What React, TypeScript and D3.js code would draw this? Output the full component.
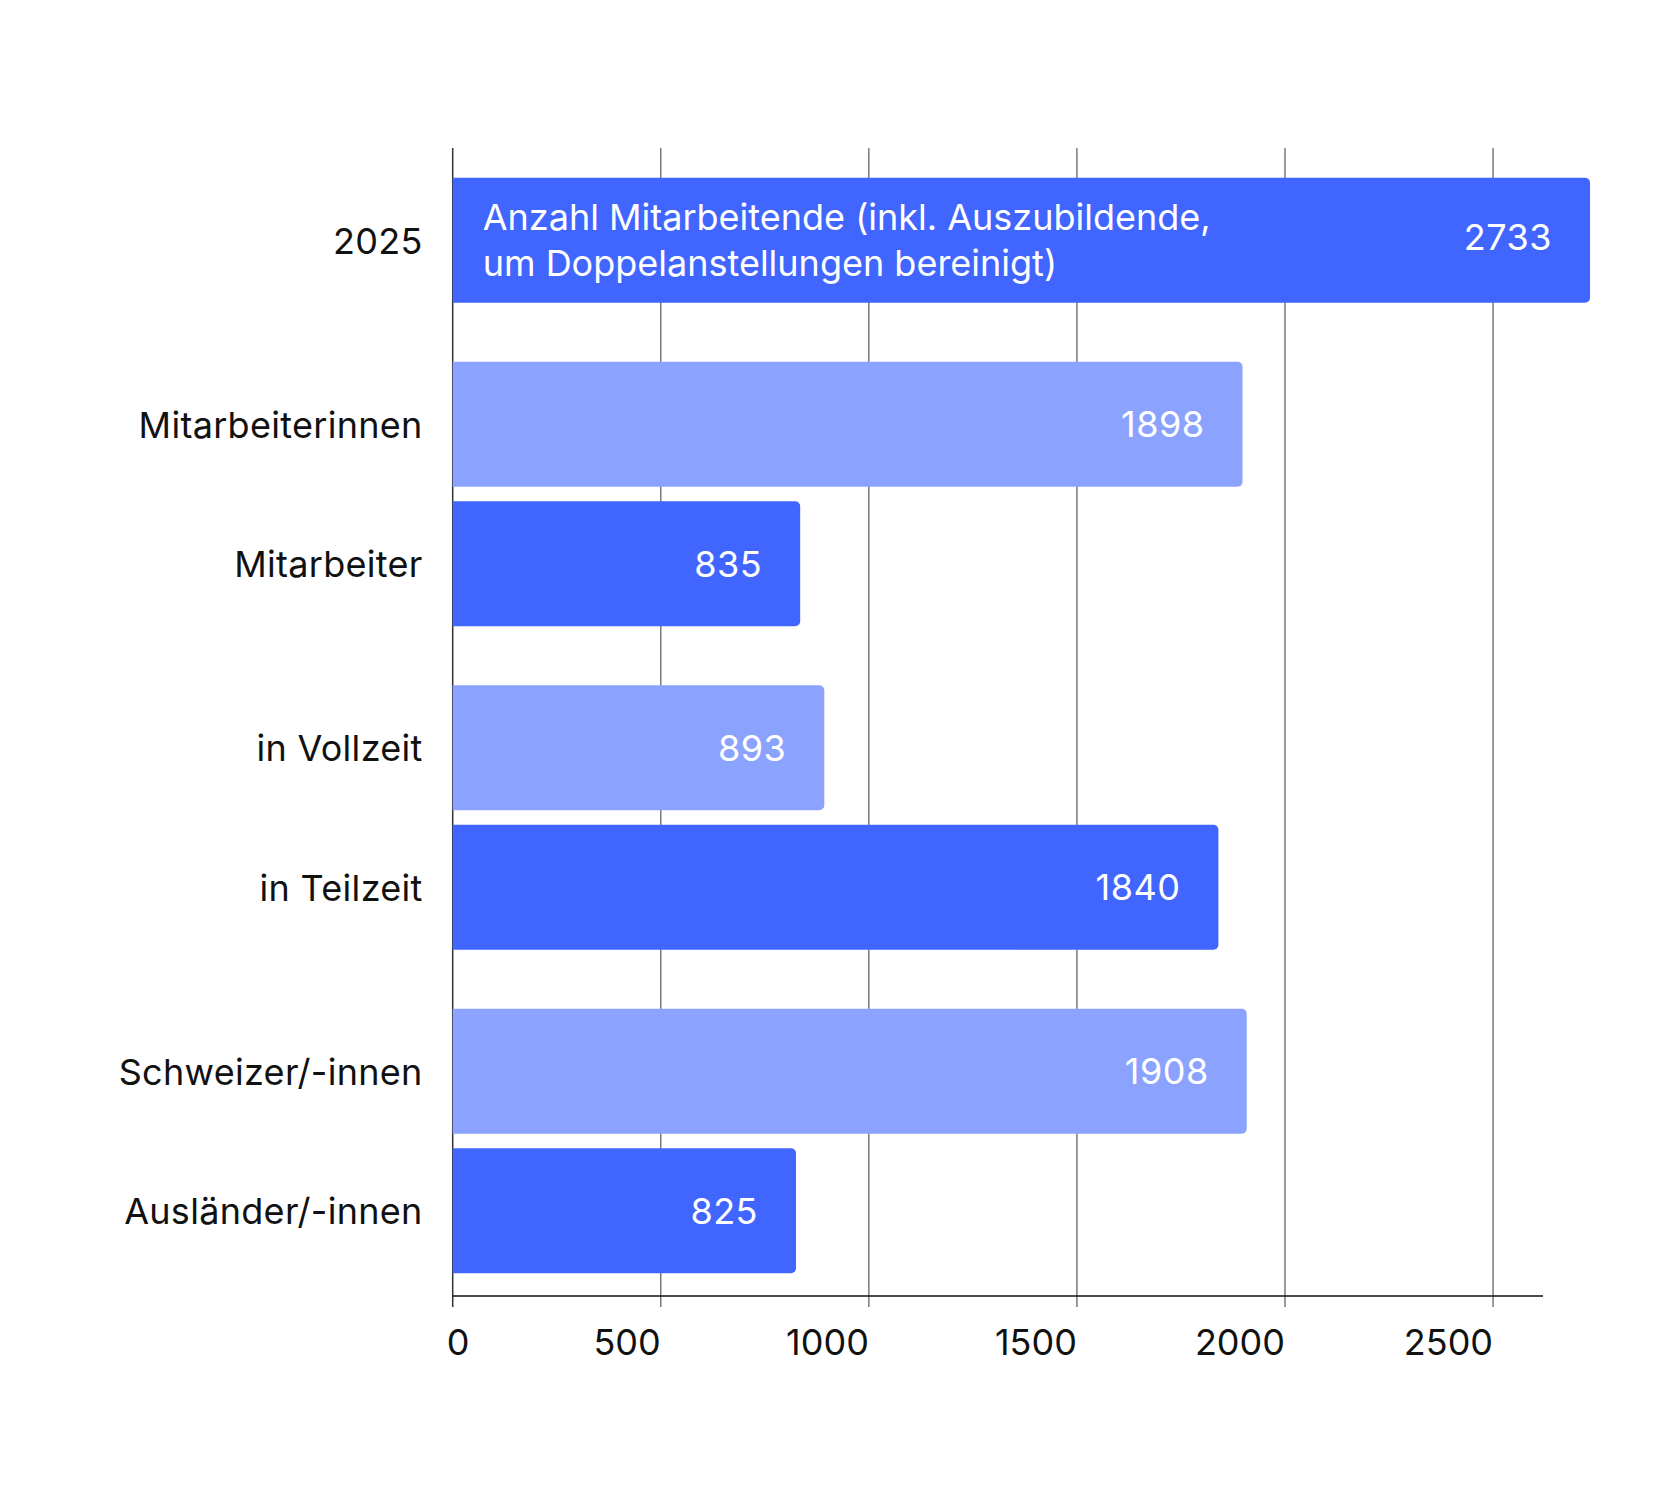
import React, { useEffect, useRef } from 'react';
import * as d3 from 'd3';

// Werte aus der Grafik
const categories = ['2025', 'Mitarbeiterinnen', 'Mitarbeiter', 'in Vollzeit', 'in Teilzeit', 'Schweizer/-innen', 'Ausländer/-innen'];
const values = [2733, 1898, 835, 893, 1840, 1908, 825];
const groups = [0, 1, 1, 2, 2, 3, 3];
const shades = ['dark', 'light', 'dark', 'light', 'dark', 'light', 'dark'];
const xTicks = [0, 500, 1000, 1500, 2000, 2500];
const noteLines = ['Anzahl Mitarbeitende (inkl. Auszubildende,', 'um Doppelanstellungen bereinigt)'];

const W = 1667;
const H = 1501;
const FONT = 'Inter, "Noto Sans", sans-serif';

const App: React.FC = () => {
  const svgRef = useRef<SVGSVGElement>(null);

  useEffect(() => {
    if (!svgRef.current) return;
    const svg = d3.select(svgRef.current);
    svg.selectAll('*').remove();

    const left = 452.7;
    const top = 177.7;
    const barH = 125;
    const innerGap = 14.5;
    const groupGap = 59;
    const axisY = 1296;
    const gridTop = 148;

    const x = d3.scaleLinear().domain([0, 2620]).range([left, 1543]);

    // y positions: bars stacked with small gap inside group, larger gap between groups
    const ys: number[] = [];
    let cur = top;
    categories.forEach((_, i) => {
      if (i > 0) cur += barH + (groups[i] === groups[i - 1] ? innerGap : groupGap);
      ys.push(cur);
    });

    const color = d3.scaleOrdinal<string, string>().domain(['dark', 'light']).range(['#4066FF', '#8BA3FF']);

    // grid lines
    svg.append('g')
      .selectAll('line')
      .data(xTicks)
      .enter()
      .append('line')
      .attr('x1', d => x(d))
      .attr('x2', d => x(d))
      .attr('y1', gridTop)
      .attr('y2', axisY + 11)
      .attr('stroke', d => (d === 0 ? '#333' : '#666'))
      .attr('stroke-width', d => (d === 0 ? 1.5 : 1.3));

    // bars with rounded right end
    const r = 5;
    const barPath = (x0: number, x1: number, y0: number, h: number) => {
      const p = d3.path();
      p.moveTo(x0, y0);
      p.lineTo(x1 - r, y0);
      p.arcTo(x1, y0, x1, y0 + r, r);
      p.lineTo(x1, y0 + h - r);
      p.arcTo(x1, y0 + h, x1 - r, y0 + h, r);
      p.lineTo(x0, y0 + h);
      p.closePath();
      return p.toString();
    };

    svg.append('g')
      .selectAll('path')
      .data(values)
      .enter()
      .append('path')
      .attr('d', (d, i) => barPath(x(0), x(d), ys[i], barH))
      .attr('fill', (_, i) => color(shades[i]));

    // value labels
    svg.append('g')
      .selectAll('text')
      .data(values)
      .enter()
      .append('text')
      .attr('x', d => x(d) - 38)
      .attr('y', (_, i) => ys[i] + barH / 2 + 13 - (i === 0 ? 3 : 0))
      .attr('text-anchor', 'end')
      .attr('fill', '#fff')
      .style('font-family', FONT)
      .style('font-size', '36px')
      .style('letter-spacing', '0.5px')
      .text(d => String(d));

    // note inside first bar
    svg.append('g')
      .selectAll('text')
      .data(noteLines)
      .enter()
      .append('text')
      .attr('x', left + 30)
      .attr('y', (_, i) => ys[0] + 52.3 + i * 45.7)
      .attr('fill', '#fff')
      .style('font-family', FONT)
      .style('font-size', '36px')
      .text(d => d);

    // category labels
    svg.append('g')
      .selectAll('text')
      .data(categories)
      .enter()
      .append('text')
      .attr('x', left - 30)
      .attr('y', (_, i) => ys[i] + barH / 2 + 13.5)
      .attr('text-anchor', 'end')
      .attr('fill', '#111')
      .style('font-family', FONT)
      .style('font-size', '36px')
      .style('letter-spacing', '0.3px')
      .text(d => d);

    // x axis line
    svg.append('line')
      .attr('x1', x(0))
      .attr('x2', x.range()[1])
      .attr('y1', axisY)
      .attr('y2', axisY)
      .attr('stroke', '#111')
      .attr('stroke-width', 1.5);

    // tick labels
    svg.append('g')
      .selectAll('text')
      .data(xTicks)
      .enter()
      .append('text')
      .attr('x', d => (d === 0 ? x(d) - 6 : x(d)))
      .attr('y', axisY + 59)
      .attr('text-anchor', d => (d === 0 ? 'start' : 'end'))
      .attr('fill', '#111')
      .style('font-family', FONT)
      .style('font-size', '36px')
      .text(d => String(d));
  }, []);

  return (
    <svg
      ref={svgRef}
      width={W}
      height={H}
      style={{ position: 'absolute', left: 0, top: 0, background: '#fff' }}
    />
  );
};

export default App;
